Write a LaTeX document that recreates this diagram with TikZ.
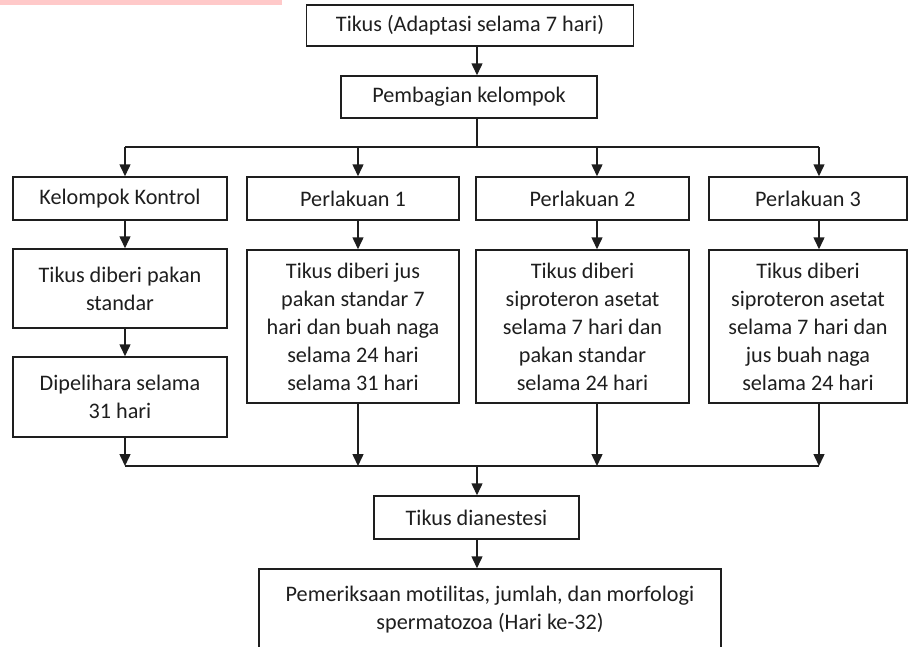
\documentclass[tikz,border=0pt]{standalone}
\usepackage{fontspec}
\setmainfont[Ligatures=NoCommon]{Carlito}
\usetikzlibrary{arrows.meta}
\definecolor{ink}{HTML}{1E1E1E}
\definecolor{hilite}{HTML}{FFC9C9}
\begin{document}
\begin{tikzpicture}[x=1pt,y=-1pt,
  box/.style={draw=ink,line width=1.5pt,text=ink,align=center,inner sep=2pt,
    font=\fontsize{22.2}{28}\selectfont},
  conn/.style={draw=ink,line width=1.5pt},
  arr/.style={conn,-{Triangle[length=12pt,width=11pt]}}]
\clip (0,0) rectangle (911,646);
\useasboundingbox (0,0) rectangle (911,646);
\fill[hilite] (0,0) rectangle (282,5);

% nodes
\node[box,minimum width=327,minimum height=41] (top) at (470,25.5) {Tikus (Adaptasi selama 7 hari)};
\node[box,minimum width=256,minimum height=42] (pemb) at (469,97) {Pembagian kelompok};

\node[box,minimum width=214,minimum height=43] (k0) at (120,198.5) {Kelompok Kontrol};
\node[box,minimum width=212,minimum height=43] (p1) at (353,198.5) {Perlakuan 1};
\node[box,minimum width=213,minimum height=43] (p2) at (582.5,198.5) {Perlakuan 2};
\node[box,minimum width=198,minimum height=43] (p3) at (808,198.5) {Perlakuan 3};

\node[box,minimum width=214,minimum height=79] (c1) at (120,288.5) {Tikus diberi pakan\\standar};
\node[box,minimum width=214,minimum height=80] (c1b) at (120,397) {Dipelihara selama\\31 hari};
\node[box,minimum width=212,minimum height=153] (d1) at (353,326.5) {Tikus diberi jus\\pakan standar 7\\hari dan buah naga\\selama 24 hari\\selama 31 hari};
\node[box,minimum width=213,minimum height=153] (d2) at (582.5,326.5) {Tikus diberi\\siproteron asetat\\selama 7 hari dan\\pakan standar\\selama 24 hari};
\node[box,minimum width=198,minimum height=153] (d3) at (808,326.5) {Tikus diberi\\siproteron asetat\\selama 7 hari dan\\jus buah naga\\selama 24 hari};

\node[box,minimum width=205,minimum height=43] (anes) at (476.5,517.5) {Tikus dianestesi};
\node[box,minimum width=462,minimum height=82] (final) at (490,610) {Pemeriksaan motilitas, jumlah, dan morfologi\\spermatozoa (Hari ke-32)};

% axes
\coordinate (ax) at (477,0);
\coordinate (sp) at (477,147);
\coordinate (a1) at (125,147);
\coordinate (a2) at (358,147);
\coordinate (a3) at (597,147);
\coordinate (a4) at (819,147);
\coordinate (bc) at (477,466);
\coordinate (b1) at (125,466);
\coordinate (b2) at (358,466);
\coordinate (b3) at (597,466);
\coordinate (b4) at (819,466);

% connectors
\draw[arr] (top.south -| ax) -- (pemb.north -| ax);
\draw[conn] (pemb.south -| ax) -- (sp);
\draw[conn] (a1) -- (a4);
\draw[arr] (a1) -- (k0.north -| a1);
\draw[arr] (a2) -- (p1.north -| a2);
\draw[arr] (a3) -- (p2.north -| a3);
\draw[arr] (a4) -- (p3.north -| a4);

\draw[arr] (k0.south -| a1) -- (c1.north -| a1);
\draw[arr] (c1.south -| a1) -- (c1b.north -| a1);
\draw[arr] (p1.south -| a2) -- (d1.north -| a2);
\draw[arr] (p2.south -| a3) -- (d2.north -| a3);
\draw[arr] (p3.south -| a4) -- (d3.north -| a4);

\draw[arr] (c1b.south -| b1) -- (b1);
\draw[arr] (d1.south -| b2) -- (b2);
\draw[arr] (d2.south -| b3) -- (b3);
\draw[arr] (d3.south -| b4) -- (b4);
\draw[conn] (b1) -- (b4);

\draw[arr] (bc) -- (anes.north -| bc);
\draw[arr] (anes.south -| bc) -- (final.north -| bc);
\end{tikzpicture}
\end{document}
